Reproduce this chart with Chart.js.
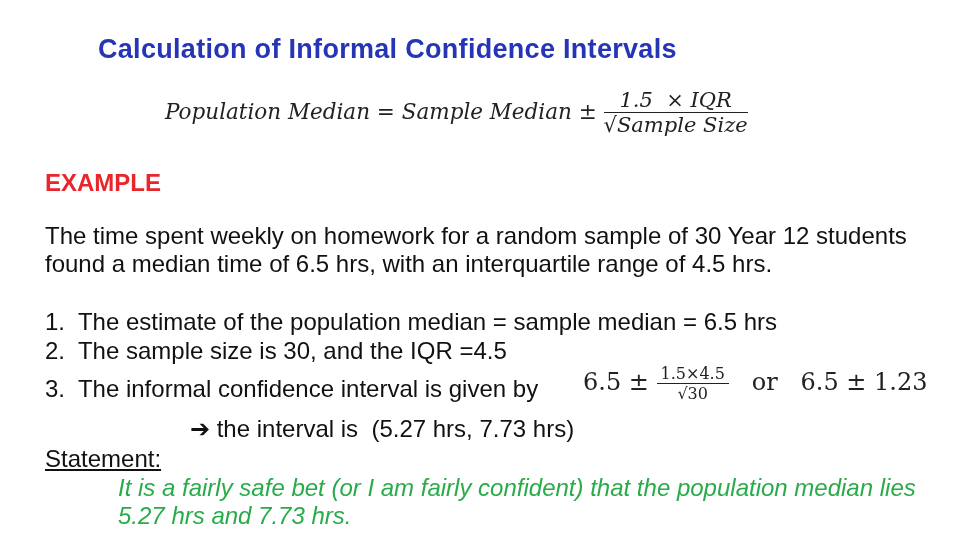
<!DOCTYPE html>
<html><head><meta charset="utf-8">
<script src="https://cdn.jsdelivr.net/npm/chart.js@4"></script>
<style>
body{margin:0;width:960px;height:540px;background:#fff;position:relative;overflow:hidden;font-family:"Liberation Sans",Arial,sans-serif;}
.t{position:absolute;white-space:nowrap;}
.m{font-family:"DejaVu Serif","Liberation Serif",serif;font-style:italic;color:#222;}
.frac{display:inline-block;vertical-align:middle;text-align:center;}
.frac .n{display:block;border-bottom:1.5px solid #222;padding:0 4px;}
.frac .d{display:block;}
#c{position:absolute;left:0;top:0;width:960px;height:540px;pointer-events:none;}
</style></head><body>
<canvas id="c" width="960" height="540"></canvas>
<div class="t" style="left:98px;top:34px;font-size:27px;font-weight:bold;color:#2535b5;letter-spacing:0.3px;">Calculation of Informal Confidence Intervals</div>
<div class="t m" style="left:165px;top:88px;font-size:21.5px;">Population Median = Sample Median <span style="font-style:normal">±</span>
 <span class="frac" style="font-size:21px;"><span class="n">1.5 &nbsp;× IQR</span><span class="d">√Sample Size</span></span></div>
<div class="t" style="left:45px;top:169px;font-size:24px;font-weight:bold;color:#e8262b;">EXAMPLE</div>
<div class="t" style="left:45px;top:222px;font-size:24px;line-height:28px;color:#111;">The time spent weekly on homework for a random sample of 30 Year 12 students<br>found a median time of 6.5 hrs, with an interquartile range of 4.5 hrs.</div>
<div class="t" style="left:45px;top:307px;font-size:24px;line-height:29px;color:#111;">1.&nbsp; The estimate of the population median = sample median = 6.5 hrs<br>2.&nbsp; The sample size is 30, and the IQR =4.5</div>
<div class="t" style="left:45px;top:375px;font-size:24px;color:#111;">3.&nbsp; The informal confidence interval is given by</div>
<div class="t" style="left:583px;top:364px;font-size:24px;font-family:'DejaVu Serif',serif;color:#222;">6.5 ± <span class="frac" style="font-size:16px;"><span class="n">1.5×4.5</span><span class="d">√30</span></span> &nbsp;&nbsp;or &nbsp;&nbsp;6.5 ± 1.23</div>
<div class="t" style="left:190px;top:415px;font-size:24px;color:#111;">➔ the interval is &nbsp;(5.27 hrs, 7.73 hrs)</div>
<div class="t" style="left:45px;top:445px;font-size:24px;color:#111;text-decoration:underline;">Statement:</div>
<div class="t" style="left:118px;top:474px;font-size:24px;line-height:28px;font-style:italic;color:#2aab4a;">It is a fairly safe bet (or I am fairly confident) that the population median lies<br>5.27 hrs and 7.73 hrs.</div>
<script>
const categories=[];
const values=[];
new Chart(document.getElementById('c'),{type:'bar',data:{labels:categories,datasets:[{data:values}]},
options:{responsive:false,animation:false,plugins:{legend:{display:false},tooltip:{enabled:false}},scales:{x:{display:false},y:{display:false}}}});
</script>
</body></html>
